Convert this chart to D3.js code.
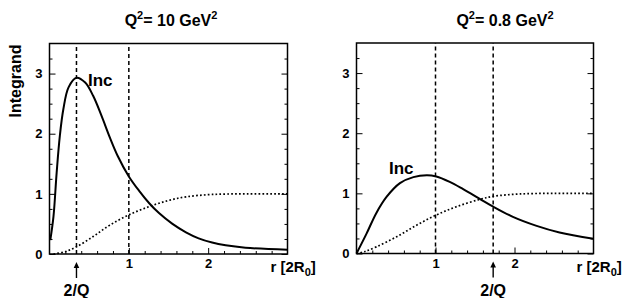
<!DOCTYPE html>
<html>
<head>
<meta charset="utf-8">
<script src="https://cdn.jsdelivr.net/npm/d3@7"></script>
<style>
  body { margin: 0; background: #fff; }
  text { font-family: "Liberation Sans", Arial, sans-serif; font-weight: bold; fill: #000; }
</style>
</head>
<body>
<div id="chart"></div>
<script>
// values
var leftIncX  = [0.01, 0.05, 0.09, 0.13, 0.175, 0.24, 0.34, 0.45, 0.55, 0.655, 0.76, 0.86, 1.0, 1.13, 1.26, 1.38, 1.55, 1.72, 1.88, 2.05, 2.22, 2.47, 3.0];
var leftIncY  = [0.23, 0.62, 1.35, 1.96, 2.41, 2.77, 2.93, 2.85, 2.63, 2.30, 1.94, 1.63, 1.29, 1.05, 0.84, 0.68, 0.50, 0.36, 0.26, 0.19, 0.145, 0.105, 0.07];
var leftDotX  = [0.05, 0.2, 0.34, 0.55, 0.76, 1.0, 1.26, 1.5, 1.72, 2.05, 2.5, 3.0];
var leftDotY  = [0.0, 0.04, 0.12, 0.29, 0.48, 0.65, 0.79, 0.89, 0.95, 0.99, 1.0, 1.0];

var rightIncX = [0.0, 0.127, 0.25, 0.38, 0.55, 0.72, 0.89, 1.01, 1.18, 1.35, 1.56, 1.73, 1.98, 2.28, 2.57, 3.0];
var rightIncY = [0.0, 0.33, 0.67, 0.94, 1.17, 1.27, 1.30, 1.28, 1.19, 1.07, 0.91, 0.78, 0.61, 0.46, 0.35, 0.245];
var rightDotX = [0.0, 0.1, 0.25, 0.51, 0.76, 1.01, 1.27, 1.56, 1.73, 2.07, 2.5, 3.0];
var rightDotY = [0.0, 0.03, 0.11, 0.28, 0.47, 0.64, 0.78, 0.90, 0.95, 0.99, 1.0, 1.0];

var panelTitles = ["10", "0.8"];
var twoOverQ = [0.34, 1.73];
var xMajor = [1, 2];
var yMajor = [0, 1, 2, 3];

var svg = d3.select("#chart").append("svg")
    .attr("width", 628)
    .attr("height", 298);

var panels = [
    {left: 49.5, right: 287.5, top: 43.5, bottom: 254, incX: leftIncX, incY: leftIncY, dotX: leftDotX, dotY: leftDotY,
     title: panelTitles[0], q: twoOverQ[0], incLabel: [88, 86], cx: 171},
    {left: 356.5, right: 593.5, top: 43, bottom: 253.5, incX: rightIncX, incY: rightIncY, dotX: rightDotX, dotY: rightDotY,
     title: panelTitles[1], q: twoOverQ[1], incLabel: [389, 174], cx: 505}
];

panels.forEach(function (p, pi) {
    var x = d3.scaleLinear().domain([0, 3]).range([p.left, p.right]);
    var y = d3.scaleLinear().domain([0, 3.5]).range([p.bottom, p.top]);
    var g = svg.append("g");

    var xMinor = d3.range(1, 15).map(function (i) { return i * 0.2; })
        .filter(function (v) { return Math.abs(v - Math.round(v)) > 1e-6; });
    var yMinor = d3.range(1, 14).map(function (i) { return i * 0.25; })
        .filter(function (v) { return Math.abs(v - Math.round(v)) > 1e-6; });

    // minor ticks, inward
    g.append("g").attr("transform", "translate(0," + p.bottom + ")")
        .call(d3.axisBottom(x).tickValues(xMinor).tickSize(-3).tickFormat(""));
    g.append("g").attr("transform", "translate(" + p.left + ",0)")
        .call(d3.axisLeft(y).tickValues(yMinor).tickSize(-3).tickFormat(""));
    g.append("g").attr("transform", "translate(" + p.right + ",0)")
        .call(d3.axisRight(y).tickValues(yMinor).tickSize(-3).tickFormat(""));

    // major ticks with labels
    g.append("g").attr("transform", "translate(0," + p.bottom + ")")
        .call(d3.axisBottom(x).tickValues(xMajor).tickSize(-6).tickPadding(5).tickFormat(d3.format("d")));
    g.append("g").attr("transform", "translate(" + p.left + ",0)")
        .call(d3.axisLeft(y).tickValues(yMajor).tickSize(-6).tickPadding(7).tickFormat(d3.format("d")));
    g.append("g").attr("transform", "translate(" + p.right + ",0)")
        .call(d3.axisRight(y).tickValues(yMajor).tickSize(-6).tickFormat(""));

    g.selectAll(".domain").remove();
    g.selectAll(".tick line").attr("stroke", "#000").attr("stroke-width", 1);
    g.selectAll(".tick text").style("font-size", "13px").style("font-family", "Liberation Sans, Arial, sans-serif")
        .style("font-weight", "bold").attr("fill", "#000");

    // frame
    g.append("rect")
        .attr("x", p.left).attr("y", p.top)
        .attr("width", p.right - p.left).attr("height", p.bottom - p.top)
        .attr("fill", "none").attr("stroke", "#000").attr("stroke-width", 1.5);

    // dashed verticals at 2/Q and 1
    [p.q, 1].forEach(function (v) {
        g.append("line")
            .attr("x1", x(v)).attr("x2", x(v))
            .attr("y1", y(0)).attr("y2", y(3.5))
            .attr("stroke", "#000").attr("stroke-width", 1.5)
            .attr("stroke-dasharray", "4,3");
    });

    var line = d3.line()
        .x(function (d) { return x(d[0]); })
        .y(function (d) { return y(d[1]); })
        .curve(d3.curveCatmullRom.alpha(0.5));

    var dot = d3.zip(p.dotX, p.dotY);
    var inc = d3.zip(p.incX, p.incY);

    g.append("path").datum(dot)
        .attr("d", line)
        .attr("fill", "none").attr("stroke", "#000").attr("stroke-width", 1.7)
        .attr("stroke-dasharray", "1.7,2.2");

    g.append("path").datum(inc)
        .attr("d", line)
        .attr("fill", "none").attr("stroke", "#000").attr("stroke-width", 2);

    g.append("text")
        .attr("x", p.incLabel[0]).attr("y", p.incLabel[1])
        .style("font-size", "17px")
        .text("Inc");

    // title
    var t = g.append("text")
        .attr("x", p.cx).attr("y", 26)
        .attr("text-anchor", "middle")
        .style("font-size", "16px");
    t.append("tspan").text("Q");
    t.append("tspan").attr("dy", -7).style("font-size", "11px").text("2");
    t.append("tspan").attr("dy", 7).text("= " + p.title + " GeV");
    t.append("tspan").attr("dy", -7).style("font-size", "11px").text("2");

    // arrow marking 2/Q
    var ax = x(p.q);
    g.append("line")
        .attr("x1", ax).attr("x2", ax)
        .attr("y1", p.bottom + 24).attr("y2", p.bottom + 12)
        .attr("stroke", "#000").attr("stroke-width", 1.4);
    g.append("path")
        .attr("d", "M" + ax + "," + (p.bottom + 8) + "L" + (ax - 2.8) + "," + (p.bottom + 14) + "L" + (ax + 2.8) + "," + (p.bottom + 14) + "Z")
        .attr("fill", "#000");
    g.append("text")
        .attr("x", ax).attr("y", p.bottom + 42)
        .attr("text-anchor", "middle")
        .style("font-size", "16px")
        .text("2/Q");

    // x axis title
    var xt = g.append("text")
        .attr("x", p.right - 17).attr("y", p.bottom + 18)
        .style("font-size", "15px");
    xt.append("tspan").text("r [2R");
    xt.append("tspan").attr("dy", 4).style("font-size", "11px").text("0");
    xt.append("tspan").attr("dy", -4).text("]");
});

// y axis title (left panel only)
svg.append("text")
    .attr("transform", "translate(21,81) rotate(-90)")
    .attr("text-anchor", "middle")
    .style("font-size", "16px")
    .text("Integrand");
</script>
</body>
</html>
